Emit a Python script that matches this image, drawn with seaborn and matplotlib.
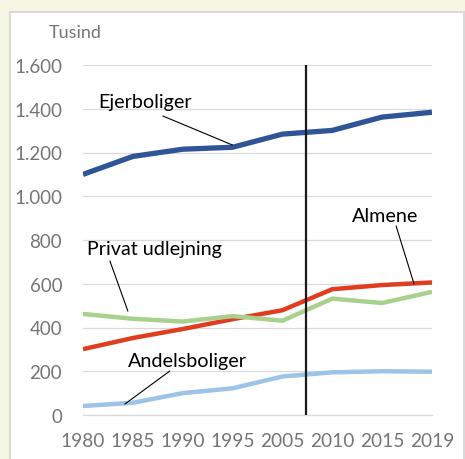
import pandas as pd
import seaborn as sns
import matplotlib.pyplot as plt
from matplotlib.patches import Rectangle
from matplotlib.ticker import FuncFormatter

# data (tusind boliger)
years = ["1980", "1985", "1990", "1995", "2005", "2010", "2015", "2019"]
ejerboliger = [1100, 1182, 1215, 1224, 1284, 1301, 1362, 1384]
almene = [301, 352, 393, 438, 479, 575, 594, 606]
privat_udlejning = [462, 440, 427, 452, 431, 532, 512, 563]
andelsboliger = [41, 56, 100, 122, 176, 195, 200, 198]
series_names = ["Ejerboliger", "Almene", "Privat udlejning", "Andelsboliger"]
colors = ["#2F5597", "#E03C1F", "#A9D18E", "#9DC3E6"]
skille_aar = 4.47  # lodret streg mellem 2005 og 2010

df = pd.DataFrame({
    "pos": list(range(len(years))) * 4,
    "value": ejerboliger + almene + privat_udlejning + andelsboliger,
    "serie": sum([[n] * len(years) for n in series_names], []),
})

sns.set_theme(style="white")
plt.rcParams["font.family"] = ["Lato", "DejaVu Sans"]

fig = plt.figure(figsize=(4.65, 4.6), dpi=100)
fig.patch.set_facecolor("#F5F7E4")
# hvidt panel med graa kant
fig.add_artist(Rectangle((10 / 465, -0.01), 454 / 465, 1 - 13 / 460 + 0.01,
                         transform=fig.transFigure, facecolor="white",
                         edgecolor="#D9D9D9", linewidth=1.5, zorder=0))

ax = fig.add_axes([83 / 465, 44 / 460, 349 / 465, 350 / 460])
ax.set_facecolor("none")

widths = {"Ejerboliger": 3.8, "Almene": 3.2, "Privat udlejning": 3.2, "Andelsboliger": 3.2}
for name, col in zip(series_names, colors):
    sub = df[df["serie"] == name]
    sns.lineplot(data=sub, x="pos", y="value", color=col, linewidth=widths[name],
                 ax=ax, legend=False, zorder=3, solid_capstyle="butt")

ax.vlines(skille_aar, -15, 1600, color="#1A1A1A", linewidth=1.6, zorder=4)

ax.set_xlim(0, len(years) - 1)
ax.set_ylim(0, 1600)
ax.set_yticks(range(0, 1601, 200))
ax.yaxis.set_major_formatter(FuncFormatter(lambda v, p: f"{int(v):,}".replace(",", ".")))
ax.set_xticks(range(len(years)))
ax.set_xticklabels(years)
ax.set_xlabel("")
ax.set_ylabel("")
ax.grid(axis="y", color="#D9D9D9", linewidth=0.9)
for s in ["top", "right", "left"]:
    ax.spines[s].set_visible(False)
ax.spines["bottom"].set_color("#D9D9D9")
ax.spines["bottom"].set_linewidth(0.9)
ax.tick_params(axis="x", colors="#D9D9D9", length=5, width=0.9, labelcolor="#757575",
               labelsize=13.8, pad=7)
ax.tick_params(axis="y", length=0, labelcolor="#757575", labelsize=13.5, pad=15)

fig.text(75 / 465, 1 - 33 / 460, "Tusind", ha="center", va="center",
         color="#757575", fontsize=13)

# etiketter med streger
line = dict(arrowstyle="-", color="black", linewidth=0.8, shrinkA=0, shrinkB=0)
labels = [("Ejerboliger", (1.24, 1431), (1.6, 1367), (3.0, 1234)),
          ("Privat udlejning", (1.44, 759), (0.54, 704), (0.9, 475)),
          ("Almene", (6.06, 914), (6.28, 864), (6.64, 599)),
          ("Andelsboliger", (2.1, 247), (1.74, 201), (0.84, 50))]
for txt, tpos, start, end in labels:
    ax.text(tpos[0], tpos[1], txt, fontsize=14.2, ha="center", va="center", color="black")
    ax.annotate("", xy=end, xytext=start, arrowprops=line)

fig.savefig("out.png", dpi=100, facecolor=fig.get_facecolor())
